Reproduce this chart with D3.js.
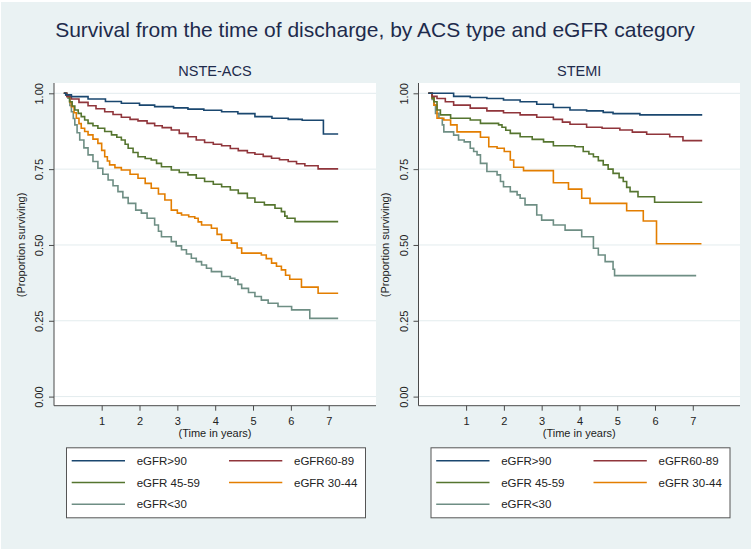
<!DOCTYPE html>
<html>
<head>
<meta charset="utf-8">
<script src="https://cdn.jsdelivr.net/npm/d3@7"></script>
<style>
  body { margin: 0; background: #ffffff; }
  svg { display: block; font-family: "Liberation Sans", Arial, Helvetica, sans-serif; }
</style>
</head>
<body>
<div class="js-container"></div>
<script>
// Kaplan-Meier estimates: [years, proportion surviving]
var groups = ['eGFR>90', 'eGFR60-89', 'eGFR 45-59', 'eGFR 30-44', 'eGFR<30'];
var colors = ['#1a476f', '#90353b', '#55752f', '#e37e00', '#6e8e84'];

var xTicks = [1, 2, 3, 4, 5, 6, 7];
var yTicks = [0, 0.25, 0.5, 0.75, 1];
var yTickLabels = ['0.00', '0.25', '0.50', '0.75', '1.00'];

var nsteGt90 = [[0,1],[0.05,0.995],[0.2,0.989],[0.64,0.981],[1.1,0.973],[1.52,0.967],[2.0,0.961],[2.4,0.956],[2.9,0.952],[3.28,0.948],[3.7,0.944],[4.17,0.939],[4.6,0.933],[5.05,0.923],[5.5,0.918],[5.93,0.914],[6.3,0.911],[6.86,0.866],[7.25,0.866]];
var nste6089 = [[0,1],[0.08,0.99],[0.2,0.981],[0.4,0.97],[0.64,0.959],[0.85,0.949],[1.08,0.939],[1.3,0.93],[1.52,0.921],[1.75,0.914],[1.96,0.909],[2.2,0.901],[2.4,0.893],[2.6,0.887],[2.84,0.879],[3.05,0.868],[3.28,0.857],[3.5,0.846],[3.72,0.838],[3.95,0.832],[4.17,0.827],[4.4,0.818],[4.61,0.811],[4.85,0.804],[5.05,0.799],[5.27,0.792],[5.49,0.786],[5.7,0.781],[5.93,0.775],[6.15,0.768],[6.37,0.761],[6.72,0.751],[7.25,0.751]];
var nste4559 = [[0,1],[0.08,0.99],[0.15,0.972],[0.22,0.958],[0.29,0.945],[0.38,0.934],[0.46,0.923],[0.55,0.912],[0.64,0.901],[0.77,0.893],[0.9,0.885],[1.08,0.874],[1.26,0.863],[1.4,0.855],[1.52,0.846],[1.62,0.832],[1.7,0.819],[1.83,0.805],[1.96,0.791],[2.15,0.785],[2.31,0.78],[2.45,0.769],[2.58,0.758],[2.84,0.747],[3.05,0.739],[3.28,0.731],[3.5,0.72],[3.72,0.709],[3.95,0.7],[4.17,0.692],[4.4,0.681],[4.61,0.67],[4.85,0.655],[5.05,0.641],[5.3,0.632],[5.58,0.621],[5.75,0.61],[5.84,0.595],[5.9,0.588],[6.11,0.577],[7.25,0.577]];
var nste3044 = [[0,1],[0.06,0.995],[0.11,0.989],[0.16,0.97],[0.2,0.956],[0.27,0.936],[0.33,0.918],[0.4,0.9],[0.46,0.885],[0.55,0.874],[0.64,0.863],[0.77,0.849],[0.9,0.835],[1.0,0.812],[1.08,0.791],[1.15,0.777],[1.21,0.764],[1.35,0.755],[1.52,0.747],[1.75,0.733],[1.96,0.72],[2.15,0.703],[2.31,0.687],[2.5,0.668],[2.67,0.648],[2.84,0.615],[3.0,0.605],[3.11,0.599],[3.3,0.593],[3.46,0.588],[3.55,0.576],[3.64,0.566],[3.9,0.555],[4.05,0.535],[4.17,0.516],[4.43,0.506],[4.58,0.49],[4.7,0.473],[5.22,0.467],[5.35,0.455],[5.49,0.44],[5.62,0.43],[5.75,0.418],[5.86,0.4],[5.97,0.387],[6.28,0.361],[6.72,0.341],[7.25,0.341]];
var nsteLt30 = [[0,1],[0.06,0.995],[0.11,0.984],[0.16,0.96],[0.2,0.939],[0.25,0.917],[0.29,0.896],[0.35,0.87],[0.42,0.846],[0.53,0.82],[0.64,0.797],[0.77,0.775],[0.9,0.753],[1.03,0.733],[1.17,0.714],[1.3,0.695],[1.43,0.676],[1.56,0.656],[1.7,0.637],[1.9,0.615],[2.05,0.605],[2.2,0.588],[2.4,0.566],[2.5,0.545],[2.58,0.527],[2.84,0.511],[2.97,0.497],[3.11,0.484],[3.24,0.47],[3.37,0.456],[3.5,0.445],[3.64,0.434],[3.77,0.423],[3.9,0.412],[4.17,0.396],[4.4,0.39],[4.52,0.385],[4.6,0.37],[4.7,0.357],[4.88,0.343],[5.05,0.33],[5.22,0.318],[5.4,0.308],[5.66,0.297],[6.02,0.286],[6.5,0.258],[7.25,0.258]];

var stemiGt90 = [[0,1],[0.67,0.99],[1.11,0.986],[1.55,0.983],[1.99,0.978],[2.43,0.972],[2.87,0.964],[3.31,0.953],[3.75,0.945],[4.19,0.942],[4.63,0.937],[4.89,0.933],[5.6,0.929],[7.25,0.929]];
var stemi6089 = [[0,1],[0.1,0.99],[0.23,0.983],[0.45,0.972],[0.67,0.961],[1.11,0.951],[1.55,0.942],[1.99,0.936],[2.43,0.929],[2.87,0.921],[3.31,0.914],[3.55,0.905],[3.75,0.898],[4.19,0.888],[4.6,0.885],[5.07,0.879],[5.4,0.872],[5.78,0.865],[6.39,0.857],[6.74,0.844],[7.25,0.844]];
var stemi4559 = [[0,1],[0.1,0.985],[0.15,0.972],[0.23,0.945],[0.32,0.929],[0.59,0.918],[1.11,0.912],[1.38,0.901],[1.86,0.896],[1.95,0.888],[2.05,0.878],[2.17,0.868],[2.43,0.857],[2.75,0.848],[3.05,0.84],[3.31,0.827],[3.88,0.824],[4.1,0.808],[4.25,0.8],[4.37,0.791],[4.5,0.778],[4.63,0.764],[4.76,0.75],[4.89,0.736],[5.05,0.722],[5.16,0.709],[5.25,0.69],[5.34,0.676],[5.55,0.659],[5.99,0.641],[7.25,0.641]];
var stemi3044 = [[0,1],[0.1,0.985],[0.15,0.961],[0.23,0.918],[0.41,0.912],[0.59,0.896],[0.76,0.873],[1.38,0.855],[1.6,0.824],[1.82,0.819],[2.01,0.808],[2.17,0.78],[2.26,0.756],[2.52,0.745],[3.31,0.705],[3.71,0.684],[4.06,0.654],[4.28,0.637],[5.25,0.613],[5.69,0.579],[6.04,0.504],[7.23,0.504]];
var stemiLt30 = [[0,1],[0.1,0.98],[0.15,0.961],[0.19,0.934],[0.28,0.918],[0.37,0.896],[0.41,0.873],[0.67,0.862],[0.8,0.846],[0.95,0.84],[1.11,0.819],[1.2,0.808],[1.29,0.797],[1.38,0.769],[1.55,0.742],[1.82,0.731],[1.91,0.709],[1.99,0.692],[2.17,0.676],[2.35,0.665],[2.43,0.654],[2.56,0.632],[2.87,0.599],[3.0,0.582],[3.31,0.566],[3.62,0.549],[4.06,0.527],[4.37,0.489],[4.5,0.467],[4.68,0.445],[4.89,0.42],[4.93,0.399],[7.09,0.399]];

(function() {
  'use strict';

  var W = 754, H = 549;
  var bg = '#eaf2f3';
  var textColor = '#1e2b4c';

  var panels = [
    { title: 'NSTE-ACS', left: 54, right: 376,
      series: [nsteGt90, nste6089, nste4559, nste3044, nsteLt30] },
    { title: 'STEMI', left: 418.5, right: 740,
      series: [stemiGt90, stemi6089, stemi4559, stemi3044, stemiLt30] }
  ];

  var plotTop = 83, plotBottom = 405.7;

  var svg = d3.select('.js-container').append('svg')
      .attr('width', W)
      .attr('height', H);

  svg.append('rect')
      .attr('x', 1).attr('y', 2)
      .attr('width', W - 4).attr('height', H - 2)
      .attr('fill', bg);

  svg.append('text')
      .attr('x', 375)
      .attr('y', 36.5)
      .attr('text-anchor', 'middle')
      .attr('font-size', 21)
      .attr('fill', textColor)
      .text('Survival from the time of discharge, by ACS type and eGFR category');

  var y = d3.scaleLinear().domain([-0.03, 1.034]).range([plotBottom, plotTop]);

  panels.forEach(function(p) {
    drawPanel(p);
  });

  function drawPanel(p) {
    var x = d3.scaleLinear().domain([-0.26, 8.25]).range([p.left, p.right]);
    var g = svg.append('g');
    var cx = (p.left + p.right) / 2;

    // plot region
    g.append('rect')
        .attr('x', p.left).attr('y', plotTop)
        .attr('width', p.right - p.left).attr('height', plotBottom - plotTop)
        .attr('fill', '#ffffff');

    // grid
    g.selectAll('.grid').data(yTicks).enter().append('line')
        .attr('x1', p.left).attr('x2', p.right)
        .attr('y1', function(d) { return y(d); })
        .attr('y2', function(d) { return y(d); })
        .attr('stroke', '#e3ecee')
        .attr('stroke-width', 1);

    // y axis
    var yAxis = d3.axisLeft(y)
        .tickValues(yTicks)
        .tickSize(5)
        .tickPadding(6)
        .tickFormat(function(d, i) { return yTickLabels[i]; });
    var ya = g.append('g')
        .attr('transform', 'translate(' + p.left + ',0)')
        .call(yAxis);
    ya.select('.domain').attr('d', 'M0,' + plotTop + 'V' + plotBottom)
        .attr('stroke', '#4a4a4a');
    ya.selectAll('.tick line').attr('stroke', '#4a4a4a');
    ya.selectAll('.tick text')
        .attr('x', null).attr('dy', null)
        .attr('transform', 'translate(-10.7,0) rotate(-90)')
        .attr('text-anchor', 'middle')
        .attr('font-size', 11)
        .attr('font-family', null)
        .attr('fill', '#222');

    // x axis
    var xAxis = d3.axisBottom(x)
        .tickValues(xTicks)
        .tickSize(5)
        .tickPadding(4)
        .tickFormat(d3.format('d'));
    var xa = g.append('g')
        .attr('transform', 'translate(0,' + plotBottom + ')')
        .call(xAxis);
    xa.select('.domain').attr('d', 'M' + p.left + ',0H' + p.right)
        .attr('stroke', '#4a4a4a');
    xa.selectAll('.tick line').attr('stroke', '#4a4a4a');
    xa.selectAll('.tick text')
        .attr('y', 19.8).attr('dy', null)
        .attr('font-size', 11)
        .attr('font-family', null)
        .attr('fill', '#222');

    ya.attr('font-family', null);
    xa.attr('font-family', null);

    // axis titles
    g.append('text')
        .attr('x', cx).attr('y', 436.5)
        .attr('text-anchor', 'middle')
        .attr('font-size', 11)
        .attr('fill', '#222')
        .text('(Time in years)');

    g.append('text')
        .attr('transform', 'translate(' + (p.left - 29.5) + ',' + y(0.5) + ') rotate(-90)')
        .attr('text-anchor', 'middle')
        .attr('font-size', 11)
        .attr('fill', '#222')
        .text('(Proportion surviving)');

    // panel title
    g.append('text')
        .attr('x', cx).attr('y', 76)
        .attr('text-anchor', 'middle')
        .attr('font-size', 14.5)
        .attr('fill', textColor)
        .text(p.title);

    // survival curves, drawn worst first so the top curves sit on top
    var line = d3.line()
        .x(function(d) { return x(d[0]); })
        .y(function(d) { return y(d[1]); })
        .curve(d3.curveStepAfter);

    for (var n = p.series.length - 1; n >= 0; n--) {
      g.append('path')
          .datum(p.series[n])
          .attr('d', line)
          .attr('fill', 'none')
          .attr('stroke', colors[n])
          .attr('stroke-width', 1.6);
    }

    drawLegend(g, p.left + 12, 447.3);
  }

  function drawLegend(g, lx, ly) {
    var lg = g.append('g').attr('transform', 'translate(' + lx + ',' + ly + ')');
    lg.append('rect')
        .attr('x', 0.5).attr('y', 0.5)
        .attr('width', 299).attr('height', 70)
        .attr('fill', '#ffffff')
        .attr('stroke', '#555')
        .attr('stroke-width', 1);

    var rowH = 21.8;
    groups.forEach(function(name, i) {
      var col = i % 2, row = Math.floor(i / 2);
      var ox = col * 157.3;
      var oy = 13.4 + row * rowH;
      lg.append('line')
          .attr('x1', 5.7 + ox).attr('x2', 59 + ox)
          .attr('y1', oy).attr('y2', oy)
          .attr('stroke', colors[i])
          .attr('stroke-width', 1.6);
      lg.append('text')
          .attr('x', 70.7 + ox).attr('y', oy + 4.1)
          .attr('font-size', 11.5)
          .attr('fill', '#222')
          .text(name);
    });
  }

}());
</script>
</body>
</html>
